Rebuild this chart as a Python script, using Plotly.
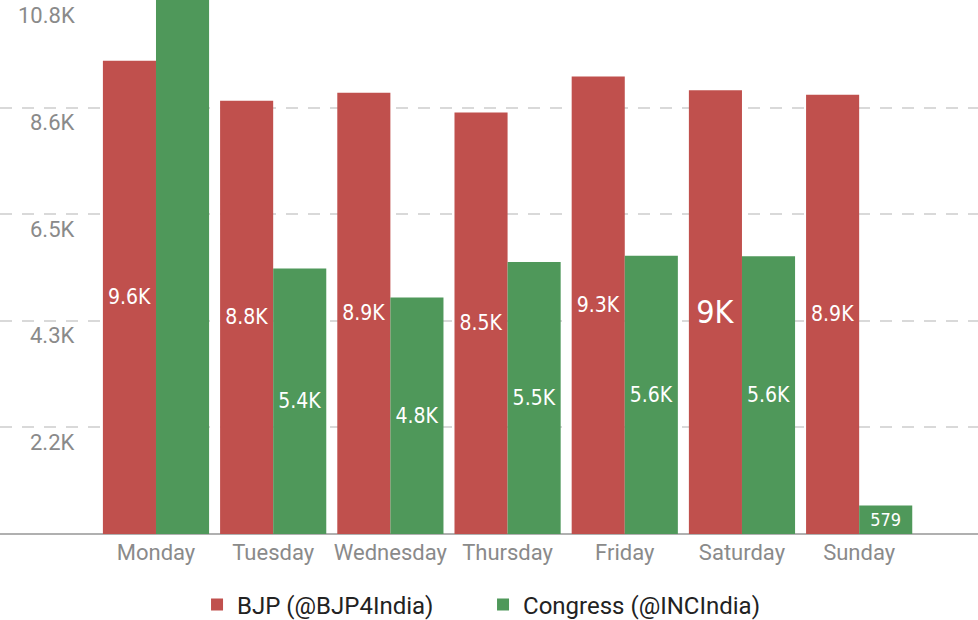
import plotly.graph_objects as go

days = ["Monday", "Tuesday", "Wednesday", "Thursday", "Friday", "Saturday", "Sunday"]
bjp = [9590, 8780, 8940, 8540, 9270, 8990, 8900]
congress = [22000, 5380, 4790, 5510, 5640, 5630, 579]
y_ticks = [2160, 4320, 6480, 8640, 10800]
y_tick_labels = ["2.2K", "4.3K", "6.5K", "8.6K", "10.8K"]
y_max = 10820

RED = "#C0504D"
GREEN = "#4F985A"
LABEL_FONT = "Liberation Sans Narrow, DejaVu Sans Condensed, sans-serif"


def fmt(v):
    if v > y_max:
        return ""
    if v < 1000:
        return str(int(v))
    s = f"{v/1000:.1f}"
    if s.endswith(".0"):
        s = s[:-2]
    return s + "K"


bjp_text = [fmt(v) for v in bjp]
con_text = [fmt(v) for v in congress]
bjp_sizes = [32 if t == "9K" else 21 for t in bjp_text]
con_sizes = [18 if "K" not in t else 21 for t in con_text]

fig = go.Figure()
fig.add_trace(go.Bar(
    x=days, y=bjp, name="BJP (@BJP4India)", marker=dict(color=RED, line=dict(width=0)),
    text=bjp_text, textposition="inside", insidetextanchor="middle",
    textfont=dict(color="white", size=bjp_sizes, family=LABEL_FONT),
    hoverinfo="skip",
))
fig.add_trace(go.Bar(
    x=days, y=congress, name="Congress (@INCIndia)", marker=dict(color=GREEN, line=dict(width=0)),
    text=con_text, textposition="inside", insidetextanchor="middle",
    textfont=dict(color="white", size=con_sizes, family=LABEL_FONT),
    hoverinfo="skip",
))

for v, lab in zip(y_ticks, y_tick_labels):
    fig.add_annotation(
        x=77 / 978, xref="paper", y=v, yref="y", text=lab, showarrow=False,
        xanchor="right", yanchor="middle", yshift=-15,
        font=dict(family="Roboto, sans-serif", size=22, color="#8a8a8a"),
    )

fig.update_layout(
    width=978, height=620,
    margin=dict(l=0, r=0, t=0, b=86, autoexpand=False),
    paper_bgcolor="white", plot_bgcolor="white",
    barmode="group", bargap=0.094, bargroupgap=0,
    showlegend=True,
    legend=dict(orientation="h", x=0.4939, xanchor="center", y=-0.133, yanchor="middle",
                entrywidth=241,
                font=dict(family="Roboto, sans-serif", size=24, color="#222")),
    font=dict(family="Roboto, sans-serif"),
)
fig.update_xaxes(
    range=[-1.331, 7.014], showgrid=False, showline=False, zeroline=False,
    ticks="", ticklabelstandoff=3,
    tickfont=dict(family="Roboto, sans-serif", size=22, color="#8a8a8a"),
    fixedrange=True,
)
fig.update_yaxes(
    range=[0, y_max], tickvals=[0] + y_ticks, showticklabels=False,
    showgrid=True, gridcolor="#d9d9d9", gridwidth=2, griddash="12px,10px",
    zeroline=True, zerolinecolor="#b0b0b0", zerolinewidth=2,
    showline=False, fixedrange=True,
)

fig.write_html("out.html", config={"displayModeBar": False},
               post_script="document.body.style.margin='0';document.body.style.padding='0';")
